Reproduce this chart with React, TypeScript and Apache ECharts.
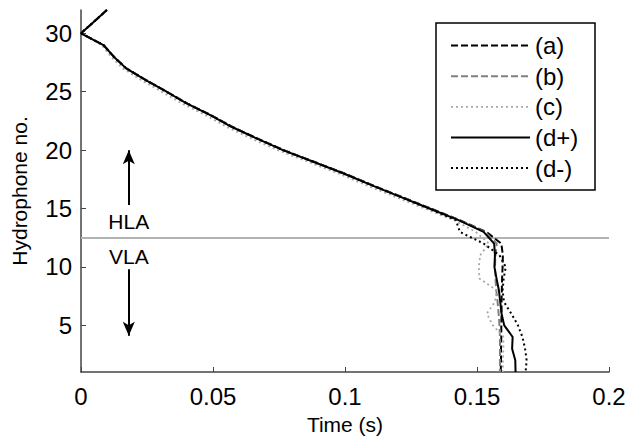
import React, { useEffect, useRef } from "react";
import * as echarts from "echarts";

// Hydrophone numbers (y) and arrival times in seconds (x) for each case
const hydrophones = [32, 31, 30, 29, 28, 27, 26, 25, 24, 23, 22, 21, 20, 19, 18, 17, 16, 15, 14, 13, 12, 11, 10, 9, 8, 7, 6, 5, 4, 3, 2, 1];

const timeA = [0.0098, 0.0049, 0, 0.0085, 0.0124, 0.0172, 0.0247, 0.0325, 0.0402, 0.0492, 0.0573, 0.0668, 0.0768, 0.0883, 0.0998, 0.1104, 0.1214, 0.1325, 0.1435,
  0.1535, 0.1592, 0.1598, 0.1597, 0.1595, 0.1594, 0.1593, 0.1593, 0.1592, 0.1592, 0.1591, 0.1591, 0.1590];
const timeB = [0.0098, 0.0049, 0, 0.0085, 0.0125, 0.0172, 0.0246, 0.0324, 0.0401, 0.0491, 0.0571, 0.0666, 0.0766, 0.0881, 0.0996, 0.1102, 0.1212, 0.1322, 0.1432,
  0.1530, 0.1575, 0.1570, 0.1568, 0.1570, 0.1573, 0.1578, 0.1582, 0.1585, 0.1587, 0.1587, 0.1587, 0.1587];
const timeC = [0.0098, 0.0049, 0, 0.0078, 0.0114, 0.0158, 0.0228, 0.0305, 0.0382, 0.0471, 0.0551, 0.0645, 0.0745, 0.0860, 0.0975, 0.1080, 0.1190, 0.1302, 0.1413,
  0.1495, 0.1545, 0.1512, 0.1507, 0.1509, 0.1575, 0.1568, 0.1537, 0.1560, 0.1600, 0.1600, 0.1598, 0.1598];
const timeDplus = [0.0098, 0.0049, 0, 0.0085, 0.0124, 0.0171, 0.0245, 0.0324, 0.0400, 0.0490, 0.0570, 0.0665, 0.0765, 0.0880, 0.0995, 0.1100, 0.1210, 0.1320, 0.1430,
  0.1525, 0.1565, 0.1568, 0.1566, 0.1574, 0.1583, 0.1588, 0.1593, 0.1603, 0.1635, 0.1633, 0.1645, 0.1646];
const timeDminus = [0.0098, 0.0049, 0, 0.0085, 0.0124, 0.0171, 0.0245, 0.0324, 0.0400, 0.0490, 0.0570, 0.0665, 0.0765, 0.0880, 0.0995, 0.1100, 0.1210, 0.1318, 0.1420,
  0.1435, 0.1525, 0.1585, 0.1609, 0.1601, 0.1597, 0.1602, 0.1630, 0.1655, 0.1672, 0.1682, 0.1688, 0.1684];

const seriesNames = ["(a)", "(b)", "(c)", "(d+)", "(d-)"];
const xTicks = [0, 0.05, 0.1, 0.15, 0.2];
const yTicks = [5, 10, 15, 20, 25, 30];
const boundary = 12.5;
const arrowTime = 0.0181;
const upArrow = [15.3, 20];
const downArrow = [9.8, 4.1];
const regionLabels = [
  { name: "HLA", h: 13.92 },
  { name: "VLA", h: 10.86 },
];

const FONT = "'Liberation Sans', Arial, Helvetica, sans-serif";

const styles = [
  { color: "#000000", width: 2, dash: [7, 3] as number[] | null },
  { color: "#808080", width: 2, dash: [7, 3] as number[] | null },
  { color: "#a8a8a8", width: 1.8, dash: [2, 3] as number[] | null },
  { color: "#000000", width: 2, dash: null as number[] | null },
  { color: "#000000", width: 2, dash: [2, 3] as number[] | null },
];

export default function App() {
  const ref = useRef<HTMLDivElement>(null);

  useEffect(() => {
    if (!ref.current) return;
    const chart = echarts.init(ref.current, null, { renderer: "svg" });
    const toData = (times: number[]) => hydrophones.map((h, i) => [times[i], h]);
    const allTimes = [timeA, timeB, timeC, timeDplus, timeDminus];

    const series: any[] = allTimes.map((t, i) => ({
      name: seriesNames[i],
      type: "line",
      data: toData(t),
      symbol: "none",
      showSymbol: false,
      smooth: false,
      color: styles[i].color,
      lineStyle: { color: styles[i].color, width: styles[i].width, type: styles[i].dash ?? "solid" },
      emphasis: { disabled: true },
      silent: true,
      z: 3 + i,
    }));

    series[0].markLine = {
      silent: true,
      symbol: ["none", "none"],
      label: { show: false },
      lineStyle: { color: "#b3b3b3", width: 2, type: "solid" },
      data: [{ yAxis: boundary }],
      z: 1,
    };
    series[1].markLine = {
      silent: true,
      symbol: ["none", "arrow"],
      symbolSize: [9, 14],
      label: { show: false },
      lineStyle: { color: "#000", width: 2, type: "solid" },
      itemStyle: { color: "#000" },
      data: [
        [{ coord: [arrowTime, upArrow[0]] }, { coord: [arrowTime, upArrow[1]] }],
        [{ coord: [arrowTime, downArrow[0]] }, { coord: [arrowTime, downArrow[1]] }],
      ],
    };
    series[2].markPoint = {
      silent: true,
      symbol: "circle",
      symbolSize: 1,
      itemStyle: { color: "rgba(0,0,0,0)" },
      label: { show: true, position: "inside", formatter: "{b}", fontSize: 21, color: "#000", fontFamily: FONT },
      data: regionLabels.map((r) => ({ name: r.name, coord: [arrowTime, r.h] })),
    };

    // Legend box drawn as graphic
    const legLeft = 436, legTop = 23, legW = 159, legH = 167;
    const rowY0 = 45.6, rowGap = 30.6;
    const legendChildren: any[] = [
      {
        type: "rect",
        shape: { x: legLeft, y: legTop, width: legW, height: legH },
        style: { fill: "#fff", stroke: "#000", lineWidth: 1.5 },
      },
    ];
    seriesNames.forEach((name, i) => {
      const y = rowY0 + i * rowGap;
      legendChildren.push({
        type: "line",
        shape: { x1: 451, y1: y, x2: 530, y2: y },
        style: {
          stroke: styles[i].color,
          lineWidth: styles[i].width,
          lineDash: styles[i].dash ?? undefined,
        },
      });
      legendChildren.push({
        type: "text",
        x: 535,
        y: y,
        style: {
          text: name,
          fill: "#000",
          font: `24px ${FONT}`,
          textVerticalAlign: "middle",
          verticalAlign: "middle",
          align: "left",
        },
      });
    });

    chart.setOption({
      animation: false,
      backgroundColor: "#fff",
      grid: { left: 81, right: 21, top: 10, bottom: 68, containLabel: false },
      xAxis: {
        type: "value",
        min: 0,
        max: 0.2,
        interval: 0.05,
        name: "Time (s)",
        nameLocation: "middle",
        nameGap: 42,
        nameTextStyle: { fontSize: 21, color: "#000", fontFamily: FONT },
        axisLine: { show: true, onZero: false, lineStyle: { color: "#444", width: 1.5 } },
        axisTick: { show: true, inside: true, length: 5, customValues: xTicks, lineStyle: { color: "#444", width: 1 } },
        axisLabel: {
          customValues: xTicks,
          fontSize: 24,
          color: "#000",
          fontFamily: FONT,
          margin: 12,
          formatter: (v: number) => String(Number(v.toFixed(2))),
        },
        splitLine: { show: false },
      },
      yAxis: {
        type: "value",
        min: 1,
        max: 32,
        name: "Hydrophone no.",
        nameLocation: "middle",
        nameGap: 51,
        nameRotate: 90,
        nameTextStyle: { fontSize: 21, color: "#000", fontFamily: FONT },
        axisLine: { show: true, onZero: false, lineStyle: { color: "#444", width: 1.5 } },
        axisTick: { show: true, inside: true, length: 5, customValues: yTicks, lineStyle: { color: "#444", width: 1 } },
        axisLabel: { customValues: yTicks, fontSize: 24, color: "#000", fontFamily: FONT, margin: 9 },
        splitLine: { show: false },
      },
      series,
      graphic: [{ type: "group", children: legendChildren, z: 100 }],
    });

    return () => chart.dispose();
  }, []);

  return (
    <div
      ref={ref}
      style={{ position: "fixed", left: 0, top: 0, width: 630, height: 440, background: "#fff" }}
    />
  );
}
